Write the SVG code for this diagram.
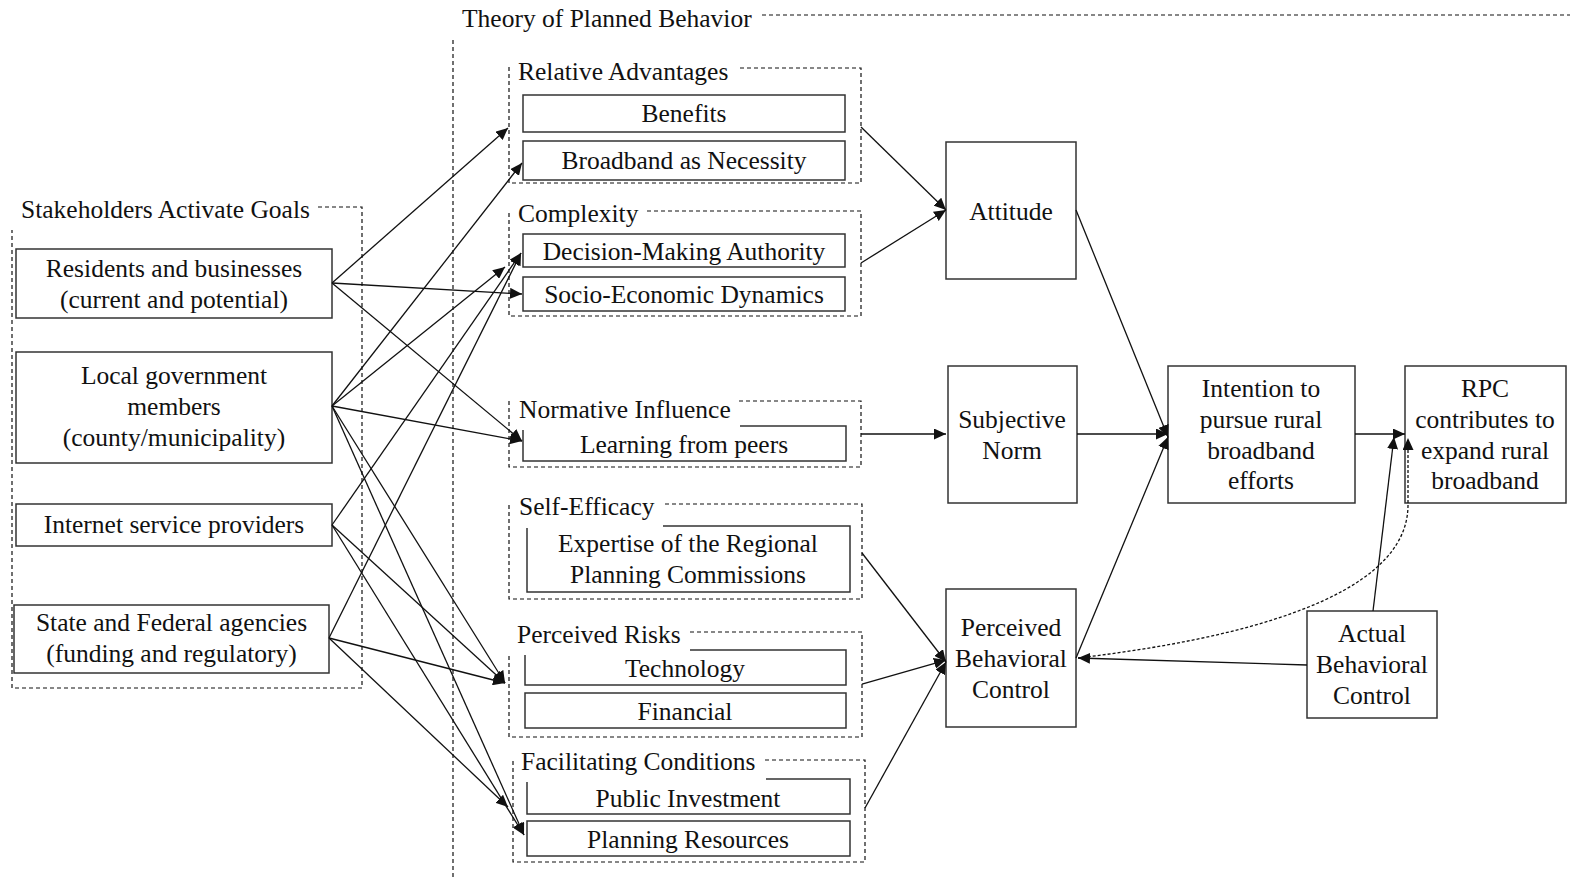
<svg xmlns="http://www.w3.org/2000/svg" width="1570" height="877" viewBox="0 0 1570 877">
  <style>
    text { font-family: "Liberation Serif", "Times New Roman", serif; font-size: 25.5px; fill: #111; }
    .c { text-anchor: middle; }
    .box { fill: none; stroke: #333; stroke-width: 1.5; }
    .grp { fill: none; stroke: #111; stroke-width: 1.2; stroke-dasharray: 4 3; }
    .edge { fill: none; stroke: #111; stroke-width: 1.3; marker-end: url(#arrow); }
    .dot { fill: none; stroke: #111; stroke-width: 1.3; stroke-dasharray: 3 2; marker-end: url(#arrow); }
  </style>
  <defs>
    <marker id="arrow" markerUnits="userSpaceOnUse" markerWidth="13" markerHeight="11" refX="12" refY="5.5" orient="auto">
      <path d="M0,0 L12,5.5 L0,11 z" fill="#111"/>
    </marker>
  </defs>
  <rect width="1570" height="877" fill="#fff"/>

  <!-- stakeholders frame -->
  <g id="stakeholders">
    <path class="grp" d="M318,207 H362 V688 H12 V230"/>
    <text x="21" y="218">Stakeholders Activate Goals</text>
  </g>
  <g id="residents">
    <rect class="box" x="16" y="249" width="316" height="69"/>
    <text class="c" x="174" y="277">Residents and businesses</text>
    <text class="c" x="174" y="308">(current and potential)</text>
  </g>
  <g id="local-gov">
    <rect class="box" x="16" y="352" width="316" height="111"/>
    <text class="c" x="174" y="384">Local government</text>
    <text class="c" x="174" y="415">members</text>
    <text class="c" x="174" y="446">(county/municipality)</text>
  </g>
  <g id="isp">
    <rect class="box" x="16" y="504" width="316" height="42"/>
    <text class="c" x="174" y="533">Internet service providers</text>
  </g>
  <g id="agencies">
    <rect class="box" x="14" y="605" width="315" height="68"/>
    <text class="c" x="171.5" y="631">State and Federal agencies</text>
    <text class="c" x="171.5" y="662">(funding and regulatory)</text>
  </g>

  <!-- theory frame -->
  <g id="tpb">
    <path class="grp" d="M762,15 H1570 M453,40 V877"/>
    <text x="462" y="27">Theory of Planned Behavior</text>
  </g>

  <g id="relative-advantages">
    <path class="grp" d="M740,68 H861 V183 H509 V67"/>
    <text x="518" y="80">Relative Advantages</text>
    <rect class="box" x="523" y="95" width="322" height="37"/>
    <text class="c" x="684" y="122">Benefits</text>
    <rect class="box" x="523" y="141" width="322" height="39"/>
    <text class="c" x="684" y="169">Broadband as Necessity</text>
  </g>
  <g id="complexity">
    <path class="grp" d="M647,211 H861 V316 H509 V211"/>
    <text x="518" y="222">Complexity</text>
    <rect class="box" x="523" y="234" width="322" height="33"/>
    <text class="c" x="684" y="260">Decision-Making Authority</text>
    <rect class="box" x="523" y="277" width="322" height="34"/>
    <text class="c" x="684" y="303">Socio-Economic Dynamics</text>
  </g>
  <g id="normative-influence">
    <path class="grp" d="M739,401 H861 V467 H509 V401"/>
    <text x="519" y="418">Normative Influence</text>
    <path class="box" d="M740,426 H846 V461 H523 V430"/>
    <text class="c" x="684" y="453">Learning from peers</text>
  </g>
  <g id="self-efficacy">
    <path class="grp" d="M665,504 H862 V599 H509 V504"/>
    <text x="519" y="515">Self-Efficacy</text>
    <path class="box" d="M663,526 H850 V592 H527 V528"/>
    <text class="c" x="688" y="552">Expertise of the Regional</text>
    <text class="c" x="688" y="583">Planning Commissions</text>
  </g>
  <g id="perceived-risks">
    <path class="grp" d="M690,632 H862 V737 H509 V655"/>
    <text x="517" y="643">Perceived Risks</text>
    <path class="box" d="M690,650 H846 V685 H525 V655"/>
    <text class="c" x="685" y="677">Technology</text>
    <rect class="box" x="525" y="693" width="321" height="35"/>
    <text class="c" x="685" y="720">Financial</text>
  </g>
  <g id="facilitating-conditions">
    <path class="grp" d="M765,760 H865 V862 H513 V760"/>
    <text x="521" y="770">Facilitating Conditions</text>
    <path class="box" d="M766,779 H850 V814 H527 V782"/>
    <text class="c" x="688" y="807">Public Investment</text>
    <rect class="box" x="527" y="821" width="323" height="35"/>
    <text class="c" x="688" y="848">Planning Resources</text>
  </g>

  <g id="attitude">
    <rect class="box" x="946" y="142" width="130" height="137"/>
    <text class="c" x="1011" y="220">Attitude</text>
  </g>
  <g id="subjective-norm">
    <rect class="box" x="948" y="366" width="129" height="137"/>
    <text class="c" x="1012" y="428">Subjective</text>
    <text class="c" x="1012" y="459">Norm</text>
  </g>
  <g id="pbc">
    <rect class="box" x="946" y="589" width="130" height="138"/>
    <text class="c" x="1011" y="636">Perceived</text>
    <text class="c" x="1011" y="667">Behavioral</text>
    <text class="c" x="1011" y="698">Control</text>
  </g>
  <g id="intention">
    <rect class="box" x="1168" y="366" width="187" height="137"/>
    <text class="c" x="1261" y="397">Intention to</text>
    <text class="c" x="1261" y="428">pursue rural</text>
    <text class="c" x="1261" y="459">broadband</text>
    <text class="c" x="1261" y="489">efforts</text>
  </g>
  <g id="rpc">
    <rect class="box" x="1405" y="366" width="161" height="137"/>
    <text class="c" x="1485" y="397">RPC</text>
    <text class="c" x="1485" y="428">contributes to</text>
    <text class="c" x="1485" y="459">expand rural</text>
    <text class="c" x="1485" y="489">broadband</text>
  </g>
  <g id="actual-control">
    <rect class="box" x="1307" y="611" width="130" height="107"/>
    <text class="c" x="1372" y="642">Actual</text>
    <text class="c" x="1372" y="673">Behavioral</text>
    <text class="c" x="1372" y="704">Control</text>
  </g>

  <g id="connectors">
    <!-- stakeholders to constructs -->
    <path class="edge" d="M332,283 L508,128"/>
    <path class="edge" d="M332,283 L522,294"/>
    <path class="edge" d="M332,283 L522,441"/>
    <path class="edge" d="M332,406 L522,163"/>
    <path class="edge" d="M332,406 L505,267"/>
    <path class="edge" d="M332,406 L522,441"/>
    <path class="edge" d="M332,406 L505,683"/>
    <path class="edge" d="M332,406 L524,835"/>
    <path class="edge" d="M332,525 L521,253"/>
    <path class="edge" d="M332,525 L505,683"/>
    <path class="edge" d="M332,525 L524,835"/>
    <path class="edge" d="M329,638 L521,253"/>
    <path class="edge" d="M329,638 L505,683"/>
    <path class="edge" d="M329,638 L508,807"/>
    <!-- constructs to TPB factors -->
    <path class="edge" d="M861,127 L946,210"/>
    <path class="edge" d="M861,263 L946,210"/>
    <path class="edge" d="M861,434 L946,434"/>
    <path class="edge" d="M862,553 L946,662"/>
    <path class="edge" d="M862,684 L946,660"/>
    <path class="edge" d="M865,808 L946,662"/>
    <!-- TPB core -->
    <path class="edge" d="M1076,210 L1168,437"/>
    <path class="edge" d="M1077,434 L1168,434"/>
    <path class="edge" d="M1076,658 L1168,437"/>
    <path class="edge" d="M1355,434 L1405,434"/>
    <path class="edge" d="M1373,611 L1394,437"/>
    <path class="edge" d="M1307,665 L1078,658"/>
    <path class="dot" d="M1078,658 C1230,640 1408,600 1408,505 L1408,438"/>
  </g>
</svg>
